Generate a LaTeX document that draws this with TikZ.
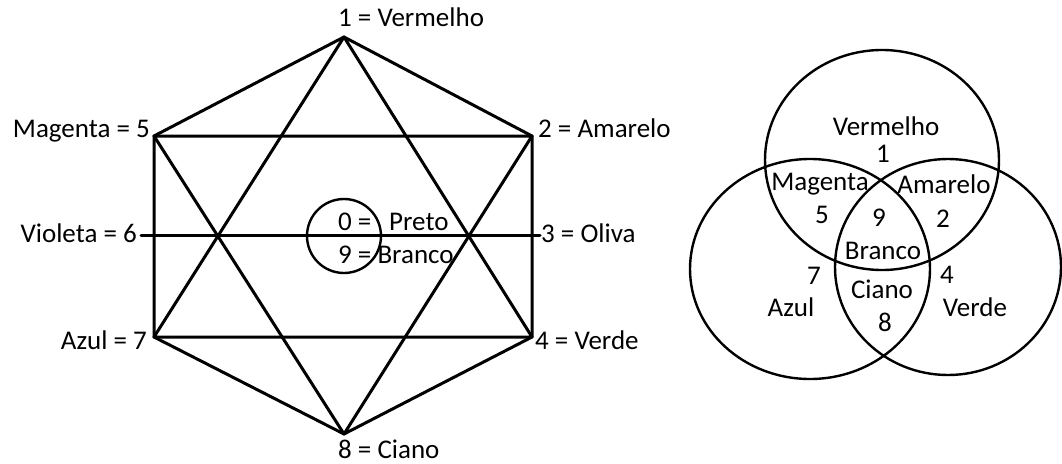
\documentclass[tikz,border=0pt]{standalone}
\usepackage{fontspec}
\setmainfont{Carlito}
\begin{document}
\begin{tikzpicture}[x=1pt,y=-1pt,
  every node/.style={font=\fontsize{27}{32}\selectfont, inner sep=0pt},
  edge/.style={line width=3pt, line cap=round, line join=round},
  ring/.style={line width=2.4pt}]
\useasboundingbox (0,0) rectangle (1062,463);
% hexagon vertices
\coordinate (v1) at (344,37);
\coordinate (v5) at (154,136);
\coordinate (v2) at (532,136);
\coordinate (v7) at (154,337);
\coordinate (v4) at (532,337);
\coordinate (v8) at (344,434);
\coordinate (v6) at (141,235);
\coordinate (v3) at (540,235);
\draw[edge] (v1)--(v2)--(v4)--(v8)--(v7)--(v5)--cycle;
\draw[edge] (v1)--(v7)--(v4)--cycle;
\draw[edge] (v8)--(v5)--(v2)--cycle;
\draw[edge] (v6)--(v3);
\node[circle, draw, line width=2.4pt, minimum size=74pt] (c0) at (344,236) {};
% labels
\node[anchor=base west] (l1) at (338,27) {1 = Vermelho};
\node[anchor=base east] (l5) at (150,137) {Magenta = 5};
\node[anchor=base west] (l2) at (538,137) {2 = Amarelo};
\node[anchor=base east] (l6) at (137,242) {Violeta = 6};
\node[anchor=base west] (l3) at (541,242) {3 = Oliva};
\node[anchor=base east] (l7) at (147,349) {Azul = 7};
\node[anchor=base west] (l4) at (535,349) {4 = Verde};
\node[anchor=base west] (l8) at (338,458) {8 = Ciano};
\node[anchor=base west] (l0) at (338,230) {0 =};
\node[anchor=base west] (lp) at (389,230) {Preto};
\node[anchor=base west] (l9) at (338,263) {9 = Branco};
% Venn diagram
\draw[ring] (882,160) ellipse [x radius=117pt, y radius=110pt];
\draw[ring] (810,269) ellipse [x radius=120pt, y radius=110pt];
\draw[ring] (948,267) ellipse [x radius=113pt, y radius=108pt];
\node[anchor=base] (vr) at (886,135) {Vermelho};
\node[anchor=base] (n1) at (883,162) {1};
\node[anchor=base] (mg) at (820,190) {Magenta};
\node[anchor=base] (am) at (944,193) {Amarelo};
\node[anchor=base] (n5) at (822,223) {5};
\node[anchor=base] (n9) at (879,226) {9};
\node[anchor=base] (n2) at (943,227) {2};
\node[anchor=base] (br) at (883,259) {Branco};
\node[anchor=base] (n7) at (814,284) {7};
\node[anchor=base] (n4) at (947,283) {4};
\node[anchor=base] (ci) at (882,298) {Ciano};
\node[anchor=base] (az) at (791,316) {Azul};
\node[anchor=base] (vd) at (975,316) {Verde};
\node[anchor=base] (n8) at (885,331) {8};
\end{tikzpicture}
\end{document}
